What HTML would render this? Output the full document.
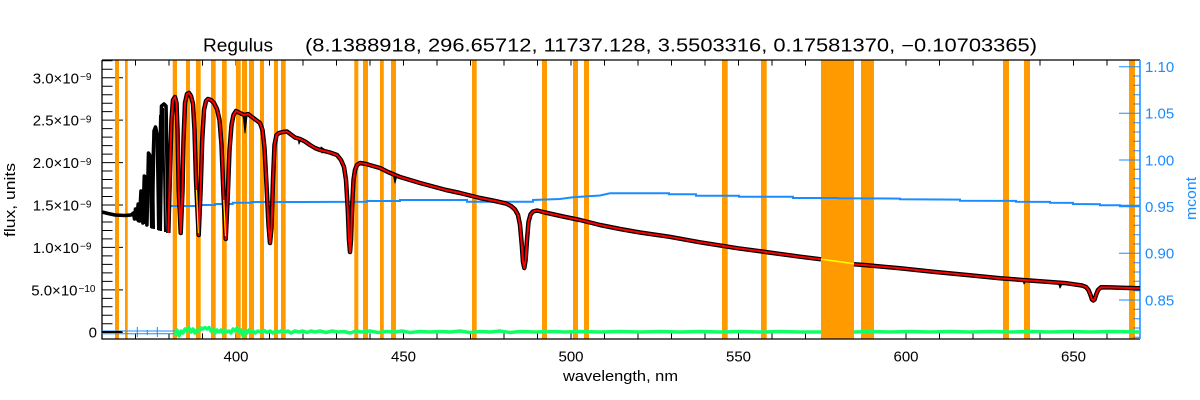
<!DOCTYPE html>
<html>
<head>
<meta charset="utf-8">
<style>
html,body{margin:0;padding:0;background:#fff;}
svg{display:block;}
text{font-family:"Liberation Sans",sans-serif;}
</style>
</head>
<body>
<svg width="1200" height="400" viewBox="0 0 1200 400" xmlns="http://www.w3.org/2000/svg">
<rect x="0" y="0" width="1200" height="400" fill="#fff"/>

<!-- left ticks -->
<path d="M102 332.3h21M102 289.9h21M102 247.4h21M102 205h21M102 162.6h21M102 120.1h21M102 77.7h21" stroke="#000" stroke-width="1" fill="none"/>
<path d="M102 323.8h10.5M102 315.3h10.5M102 306.8h10.5M102 298.4h10.5M102 281.4h10.5M102 272.9h10.5M102 264.4h10.5M102 255.9h10.5M102 238.9h10.5M102 230.5h10.5M102 222h10.5M102 213.5h10.5M102 196.5h10.5M102 188h10.5M102 179.5h10.5M102 171h10.5M102 154.1h10.5M102 145.6h10.5M102 137.1h10.5M102 128.6h10.5M102 111.6h10.5M102 103.2h10.5M102 94.7h10.5M102 86.2h10.5M102 69.2h10.5M102 60.7h10.5" stroke="#000" stroke-width="1" fill="none"/>

<!-- x ticks bottom & top -->
<path d="M135.5 339v-5.6M169 339v-5.6M202.5 339v-5.6M236 339v-5.6M269.5 339v-5.6M303 339v-5.6M336.5 339v-5.6M370 339v-5.6M403.5 339v-5.6M437 339v-5.6M470.5 339v-5.6M504 339v-5.6M537.5 339v-5.6M571 339v-5.6M604.5 339v-5.6M638 339v-5.6M671.5 339v-5.6M705 339v-5.6M738.5 339v-5.6M772 339v-5.6M805.5 339v-5.6M839 339v-5.6M872.5 339v-5.6M906 339v-5.6M939.5 339v-5.6M973 339v-5.6M1006.5 339v-5.6M1040 339v-5.6M1073.5 339v-5.6M1107 339v-5.6
M135.5 60v5.6M169 60v5.6M202.5 60v5.6M236 60v5.6M269.5 60v5.6M303 60v5.6M336.5 60v5.6M370 60v5.6M403.5 60v5.6M437 60v5.6M470.5 60v5.6M504 60v5.6M537.5 60v5.6M571 60v5.6M604.5 60v5.6M638 60v5.6M671.5 60v5.6M705 60v5.6M738.5 60v5.6M772 60v5.6M805.5 60v5.6M839 60v5.6M872.5 60v5.6M906 60v5.6M939.5 60v5.6M973 60v5.6M1006.5 60v5.6M1040 60v5.6M1073.5 60v5.6M1107 60v5.6" stroke="#000" stroke-width="1" fill="none"/>

<!-- orange bands -->
<g fill="#ff9a00">
<rect x="115" y="60.5" width="4" height="278.5"/>
<rect x="125" y="60.5" width="2.7" height="278.5"/>
<rect x="172.7" y="60.5" width="4.3" height="278.5"/>
<rect x="186" y="60.5" width="4" height="278.5"/>
<rect x="196" y="60.5" width="4.7" height="278.5"/>
<rect x="211" y="60.5" width="4.7" height="278.5"/>
<rect x="222" y="60.5" width="4.7" height="278.5"/>
<rect x="236" y="60.5" width="4.7" height="278.5"/>
<rect x="242" y="60.5" width="5" height="278.5"/>
<rect x="249" y="60.5" width="5" height="278.5"/>
<rect x="260" y="60.5" width="4" height="278.5"/>
<rect x="274" y="60.5" width="4" height="278.5"/>
<rect x="281" y="60.5" width="4.7" height="278.5"/>
<rect x="354.3" y="60.5" width="4" height="278.5"/>
<rect x="363" y="60.5" width="5" height="278.5"/>
<rect x="380" y="60.5" width="3.8" height="278.5"/>
<rect x="391" y="60.5" width="5" height="278.5"/>
<rect x="472" y="60.5" width="4.7" height="278.5"/>
<rect x="542" y="60.5" width="5" height="278.5"/>
<rect x="573" y="60.5" width="5" height="278.5"/>
<rect x="584" y="60.5" width="5" height="278.5"/>
<rect x="722" y="60.5" width="5.7" height="278.5"/>
<rect x="761" y="60.5" width="5.7" height="278.5"/>
<rect x="821" y="60.5" width="33" height="278.5"/>
<rect x="861" y="60.5" width="13" height="278.5"/>
<rect x="1003" y="60.5" width="6" height="278.5"/>
<rect x="1024" y="60.5" width="6" height="278.5"/>
<rect x="1129" y="60.5" width="6" height="278.5"/>
</g>

<!-- axes box -->
<path d="M102 60V339H1140M102 60H1140" stroke="#000" stroke-width="1.3" fill="none"/>

<!-- right axis (blue) -->
<g stroke="#1a8cff" stroke-width="1" fill="none">
<path d="M1140 60V339" stroke-width="1.5"/>
<path d="M1140 66.7h-21M1140 113.3h-21M1140 160h-21M1140 206.7h-21M1140 253.3h-21M1140 300h-21"/>
<path d="M1140 76h-7M1140 85.3h-7M1140 94.7h-7M1140 104h-7M1140 122.7h-7M1140 132h-7M1140 141.3h-7M1140 150.7h-7M1140 169.3h-7M1140 178.7h-7M1140 188h-7M1140 197.3h-7M1140 216h-7M1140 225.3h-7M1140 234.7h-7M1140 244h-7M1140 262.7h-7M1140 272h-7M1140 281.3h-7M1140 290.7h-7M1140 309.3h-7M1140 318.7h-7M1140 328h-7M1140 337.3h-7"/>
</g>

<!-- zero level lines left -->
<g stroke="#1a8cff" stroke-width="1" fill="none">
<path d="M102 331H175M102 333.7H175"/>
<path d="M137.3 327V337M147.3 330V335M157.3 327V337"/>
</g>
<path d="M102 332H122" stroke="#000" stroke-width="2"/>

<!-- green residual -->
<g stroke="#11ff66" stroke-width="3.5" fill="none" stroke-linejoin="round">
<polyline points="175,335 177,330 179,336 181,331 183,333 185,329 187,331 189,328 191,332 193,329 195,333 197,330 199,331 201,328 203,329 205,327.5 207,329 209,327.5 211,331 213,329 215,333 217,330 219,332 221,330 223,333 225,330 227,332 229,331 231,333 233,329 235,331 237,328 239,332 241,330 243,336 245,331 247,333 249,330 251,332 253,331 255,333 258,331 261,332 264,330.5 267,332.5 270,331 273,333 276,331 279,332 282,330.5 285,332 288,331 291,333 295,331 299,332 303,331 307,332.5 311,331 315,332 320,331 326,332.5 332,331 338,332 344,331.5 350,333 356,331 362,332 370,331 378,332.5 386,331.5 394,332 402,331 410,332.5 420,331.5 430,332 440,331.5 450,332 460,331 470,332.5 480,331.5 490,332 500,331 510,332.5 520,331.5 535,332 550,331.5 565,332 580,331.5 600,332 620,331.5 640,332 660,331.5 680,332 700,331.5 720,332 740,331.5 760,332 780,331.5 800,332 821,332"/>
<polyline points="854,332 870,331.5 890,332 910,331.5 930,332 950,331.5 970,332 990,331.5 1010,332 1030,331.5 1050,332 1070,331.5 1090,332 1110,331.5 1140,332"/>
</g>

<!-- mcont blue -->
<polyline points="169,206 196.7,206 196.7,205 215,205 215,204 232.7,204 232.7,202.7 251.7,202.7 251.7,202 300,202 367,201.7 367,201 400,201 400,200 467,200 467,201.7 533,201.7 533,200 560,199 573,197.3 600,195.5 610,193.3 669,193.3 669,194.3 696,194.3 696,195.7 739,195.7 739,196.7 793,196.7 793,198 838,198 838,198.3 900,198.6 900,199.3 960,199.6 960,200.7 1016,200.9 1016,201.7 1050,201.9 1050,202.7 1073,202.9 1073,204 1100,204.2 1100,205.3 1120,205.3 1120,205.7 1140,205.7" stroke="#1a8cff" stroke-width="2" fill="none"/>

<!-- flux: pre-model black -->
<polyline points="102,212 108,213.5 115,215 125,215.5 131,215 133.5,213 134.5,219 135.5,209 136.8,219 138.2,204 139.5,221 141,191 142.9,223 144.3,176 145.6,178 146.9,225 148.5,153 150.3,156 152.2,227 154,131 155.5,127 157.5,136 159.3,229 161.5,106 164,104 166,106 168.3,233" stroke="#000" stroke-width="3.6" fill="none" stroke-linejoin="round"/>
<path d="M136 212L138 222L140 205L141.5 222M143 190L144 224L146 185L147.5 226M149.5 160L151 228L153 140L154 229M156.5 132L158 230L160 115L161 231L163 108L165 232" stroke="#000" stroke-width="2" fill="none"/>

<g fill="none" stroke-linejoin="round">
<polyline points="168.3,233 170,170 171.5,120 173,100 175,97 176.5,103 177.5,130 178.7,190 180.7,233 182.5,190 183.5,140 185,103 187,94 189,93 191,96 193,104 194.5,130 196,180 198.7,235 200.8,185 202.2,140 204,110 206,101 208,99 211,100 214,103 217,109 219.5,120 221.5,145 223.5,195 225.7,239 227.8,195 229.5,150 231.5,125 233.5,115 236,111 240,113 244,115 248,114 252,117 256,120 260,123 262.5,130 264.5,148 266.5,185 268.5,225 270,243 271.5,228 273,180 274.5,145 276.5,135 279,133 283,132 287,131.5 291,134.5 295,137.5 300,139 305,141.5 310,145 315,148 320,150 330,152.5 337,155 341,160 344,167 346,180 347.8,210 349,240 350,252 351,240 352.2,205 353.5,180 355,170 357,165 360,163 366,164 373,166 380,168 388,172 395,175 400,177 410,180 420,183 433,186.5 446,190 460,193 470,195.5 480,198 495,201 506,203.5 511,206 515,209.5 518,215 520,225 521.8,245 523,262 524.3,268 525.6,260 527,240 528.5,222 530.5,214.5 533,211.5 537,210.5 545,212.5 563,216.5 580,220 600,225 620,229 640,232.5 669,236.7 700,242.3 738,248.3 770,252.6 800,256.7 821,259.3" stroke="#000" stroke-width="4.5"/>
<polyline points="854,264.2 867,265.3 900,268.3 933,271.7 967,275 1000,278.3 1033,280.7 1067,283.3 1082,285.5 1086,287 1088.5,290 1090.5,295 1092,299.5 1093.3,300.5 1094.6,299.5 1096,295 1098,290 1101,287.3 1110,287.4 1125,287.9 1140,288.3" stroke="#000" stroke-width="4.5"/>
<path d="M243 114L245 133L247 116Z M393 173L395 183L397 175Z M298 137L299 144L301 139Z M321 147L322 153L324 149Z M1023 279L1024 284L1026 281Z M1058 282L1060 288L1062 284Z" fill="#000" stroke="#000" stroke-width="1"/>
<polyline points="168.3,233 170,170 171.5,120 173,100 175,97 176.5,103 177.5,130 178.7,190 180.7,233 182.5,190 183.5,140 185,103 187,94 189,93 191,96 193,104 194.5,130 196,180 198.7,235 200.8,185 202.2,140 204,110 206,101 208,99 211,100 214,103 217,109 219.5,120 221.5,145 223.5,195 225.7,239 227.8,195 229.5,150 231.5,125 233.5,115 236,111 240,113 244,115 248,114 252,117 256,120 260,123 262.5,130 264.5,148 266.5,185 268.5,225 270,243 271.5,228 273,180 274.5,145 276.5,135 279,133 283,132 287,131.5 291,134.5 295,137.5 300,139 305,141.5 310,145 315,148 320,150 330,152.5 337,155 341,160 344,167 346,180 347.8,210 349,240 350,252 351,240 352.2,205 353.5,180 355,170 357,165 360,163 366,164 373,166 380,168 388,172 395,175 400,177 410,180 420,183 433,186.5 446,190 460,193 470,195.5 480,198 495,201 506,203.5 511,206 515,209.5 518,215 520,225 521.8,245 523,262 524.3,268 525.6,260 527,240 528.5,222 530.5,214.5 533,211.5 537,210.5 545,212.5 563,216.5 580,220 600,225 620,229 640,232.5 669,236.7 700,242.3 738,248.3 770,252.6 800,256.7 821,259.3" stroke="#ff0000" stroke-width="2"/>
<polyline points="854,264.2 867,265.3 900,268.3 933,271.7 967,275 1000,278.3 1033,280.7 1067,283.3 1082,285.5 1086,287 1088.5,290 1090.5,295 1092,299.5 1093.3,300.5 1094.6,299.5 1096,295 1098,290 1101,287.3 1110,287.4 1125,287.9 1140,288.3" stroke="#ff0000" stroke-width="2"/>
<polyline points="821,259.3 838,261.5 854,263.8" stroke="#ffff00" stroke-width="1.5"/>
<polyline points="196.5,190 197.5,215 198.3,233" stroke="#ffff00" stroke-width="1"/>
<polyline points="223.8,200 224.8,222 225.4,236" stroke="#ffff00" stroke-width="1"/>
</g>

<!-- title -->
<text x="203" y="51.7" font-size="18" textLength="70" lengthAdjust="spacingAndGlyphs">Regulus</text>
<text x="305" y="51.7" font-size="18" textLength="732" lengthAdjust="spacingAndGlyphs">(8.1388918, 296.65712, 11737.128, 3.5503316, 0.17581370, −0.10703365)</text>

<!-- left y labels -->
<g font-size="15" fill="#000">
<text x="79" y="83.3" text-anchor="end">3.0×10</text><text x="80" y="80" font-size="10">−9</text>
<text x="79" y="125.7" text-anchor="end">2.5×10</text><text x="80" y="122.4" font-size="10">−9</text>
<text x="79" y="168.2" text-anchor="end">2.0×10</text><text x="80" y="164.9" font-size="10">−9</text>
<text x="79" y="210.6" text-anchor="end">1.5×10</text><text x="80" y="207.3" font-size="10">−9</text>
<text x="79" y="253" text-anchor="end">1.0×10</text><text x="80" y="249.7" font-size="10">−9</text>
<text x="77.5" y="295.5" text-anchor="end">5.0×10</text><text x="78.5" y="292.2" font-size="10">−10</text>
<text x="97" y="337.6" text-anchor="end">0</text>
</g>

<!-- right labels -->
<g font-size="15" fill="#1a8cff">
<text x="1145" y="72">1.10</text>
<text x="1145" y="118.6">1.05</text>
<text x="1145" y="165.3">1.00</text>
<text x="1145" y="212">0.95</text>
<text x="1145" y="258.6">0.90</text>
<text x="1145" y="305.3">0.85</text>
<text transform="translate(1196,198.5) rotate(-90)" text-anchor="middle" font-size="15" textLength="43" lengthAdjust="spacingAndGlyphs">mcont</text>
</g>

<!-- x labels -->
<g font-size="15" fill="#000" text-anchor="middle">
<text x="236" y="361.5">400</text>
<text x="403.5" y="361.5">450</text>
<text x="571" y="361.5">500</text>
<text x="738.5" y="361.5">550</text>
<text x="906" y="361.5">600</text>
<text x="1073.5" y="361.5">650</text>
<text x="620.5" y="381" textLength="115" lengthAdjust="spacingAndGlyphs">wavelength, nm</text>
</g>

<text transform="translate(15,200) rotate(-90)" text-anchor="middle" font-size="15" textLength="74" lengthAdjust="spacingAndGlyphs">flux, units</text>
</svg>
</body>
</html>
